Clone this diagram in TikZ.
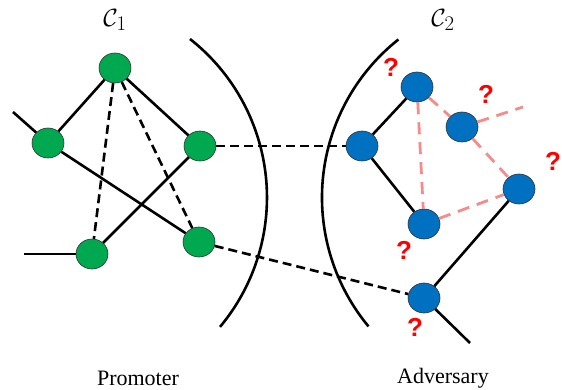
\documentclass[tikz,border=0pt]{standalone}
\usepackage{fontspec}
\setmainfont{Liberation Serif}
\newfontfamily\qfont{Liberation Sans}
\usetikzlibrary{shapes.geometric}
\definecolor{gfill}{RGB}{0,168,80}
\definecolor{bfill}{RGB}{0,112,192}
\definecolor{pinkline}{RGB}{244,140,140}
\definecolor{qred}{RGB}{255,0,0}
\tikzset{
  gnode/.style={ellipse, draw=black!80, line width=0.6pt, fill=gfill, minimum width=32pt, minimum height=30pt, inner sep=0pt},
  bnode/.style={ellipse, draw=black!80, line width=0.6pt, fill=bfill, minimum width=32pt, minimum height=30pt, inner sep=0pt},
  solidedge/.style={line width=2.6pt, black},
  dashedge/.style={line width=2.6pt, black, dash pattern=on 9pt off 5pt},
  pinkedge/.style={line width=2.8pt, pinkline, dash pattern=on 12pt off 8pt},
  arcline/.style={line width=2.6pt, black},
  qmark/.style={text=qred, font=\qfont\bfseries\fontsize{26}{26}\selectfont, inner sep=0pt},
  caption/.style={font=\fontsize{22}{26}\selectfont, inner sep=0pt},
  clabel/.style={font=\fontsize{28}{32}\selectfont, inner sep=0pt}
}
\begin{document}
\begin{tikzpicture}[x=1pt,y=1pt]
\useasboundingbox (0,0) rectangle (562,-390);
% arcs
\draw[arcline] (190,-39) arc[start angle=51.8, end angle=-39.9, radius=201.7pt];
\draw[arcline] (398.4,-39.5) arc[start angle=128.4, end angle=219.7, radius=201.7pt];
% green nodes
\node[gnode] (g1) at (115,-68) {};
\node[gnode] (g2) at (48,-143) {};
\node[gnode] (g3) at (200,-146) {};
\node[gnode] (g4) at (92,-254) {};
\node[gnode] (g5) at (199,-242) {};
% blue nodes
\node[bnode] (b1) at (362,-146) {};
\node[bnode] (b2) at (417,-87) {};
\node[bnode] (b3) at (462,-127) {};
\node[bnode] (b4) at (519,-189) {};
\node[bnode] (b5) at (424,-224) {};
\node[bnode] (b6) at (424,-298) {};
% free ends
\coordinate (e1) at (13,-112);
\coordinate (e2) at (24,-254);
\coordinate (e3) at (470,-343);
\coordinate (e4) at (523,-107);
% solid edges
\draw[solidedge] (g2) -- (e1);
\draw[solidedge] (g2) -- (g1);
\draw[solidedge] (g1) -- (g3);
\draw[solidedge] (g2) -- (g5);
\draw[solidedge] (g4) -- (g3);
\draw[solidedge] (g4) -- (e2);
\draw[solidedge] (b1) -- (b2);
\draw[solidedge] (b1) -- (b5);
\draw[solidedge] (b4) -- (b6);
\draw[solidedge] (b6) -- (e3);
% dashed edges
\draw[dashedge] (g1) -- (g4);
\draw[dashedge] (g1) -- (g5);
\draw[dashedge] (g3) -- (b1);
\draw[dashedge] (g5) -- (b6);
% pink edges
\draw[pinkedge] (b2) -- (b3);
\draw[pinkedge] (b3) -- (b4);
\draw[pinkedge] (b2) -- (b5);
\draw[pinkedge] (b5) -- (b4);
\draw[pinkedge] (b3) -- (e4);
% question marks
\node[qmark] (q1) at (391,-67) {?};
\node[qmark] (q2) at (486,-94) {?};
\node[qmark] (q3) at (553,-161) {?};
\node[qmark] (q4) at (404,-250) {?};
\node[qmark] (q5) at (415,-327) {?};
% labels
\node[clabel] (c1) at (115,-20) {$\mathcal{C}_1$};
\node[clabel] (c2) at (443,-20) {$\mathcal{C}_2$};
\node[caption] (p) at (138,-378) {Promoter};
\node[caption] (a) at (443,-378) {Adversary};
\end{tikzpicture}
\end{document}
